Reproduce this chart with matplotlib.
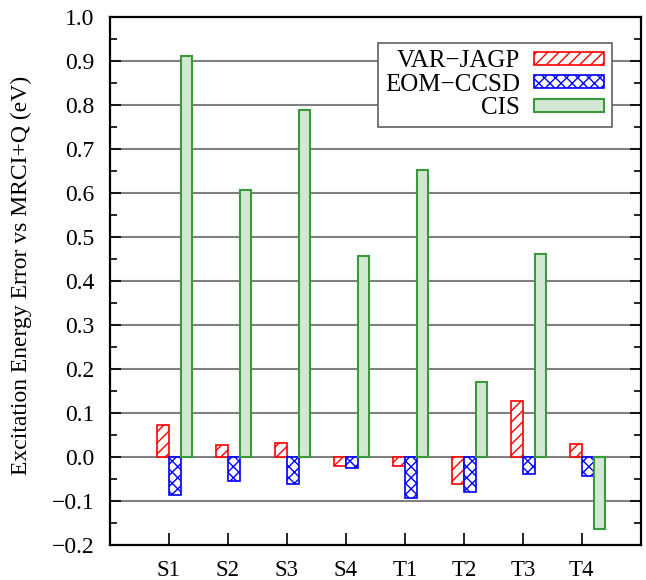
import numpy as np
import matplotlib.pyplot as plt
from matplotlib.ticker import MultipleLocator

states = ['S1', 'S2', 'S3', 'S4', 'T1', 'T2', 'T3', 'T4']
var_jagp = [0.072, 0.027, 0.032, -0.020, -0.021, -0.062, 0.127, 0.029]
eom_ccsd = [-0.087, -0.054, -0.060, -0.024, -0.093, -0.079, -0.039, -0.042]
cis = [0.910, 0.607, 0.789, 0.457, 0.651, 0.170, 0.461, -0.164]


def main():
    plt.rcParams['font.family'] = ['Liberation Serif', 'DejaVu Serif']
    plt.rcParams['hatch.linewidth'] = 1.0

    fig = plt.figure(figsize=(6.46, 5.8), dpi=100)
    ax = fig.add_axes([0.170, 0.060, 0.822, 0.911])

    x = np.arange(1, len(states) + 1)
    w = 0.2

    for y in np.arange(-0.1, 0.95, 0.1):
        ax.axhline(y, color='#808080', lw=1.5, zorder=0)

    ax.bar(x - w / 2, var_jagp, w, facecolor='white', edgecolor='red',
           hatch='///', lw=1.2, label='VAR\u2212JAGP', zorder=2)
    ax.bar(x + w / 2, eom_ccsd, w, facecolor='white', edgecolor='blue',
           hatch='xxx', lw=1.2, label='EOM\u2212CCSD', zorder=2)
    ax.bar(x + 3 * w / 2, cis, w, facecolor='#d3e8d3', edgecolor='#3a9a3a',
           lw=1.5, label='CIS', zorder=2)

    ax.set_xlim(0, 9)
    ax.set_ylim(-0.2, 1.0)
    ax.set_xticks(x)
    ax.set_xticklabels(states)
    ax.yaxis.set_major_locator(MultipleLocator(0.1))
    ax.yaxis.set_minor_locator(MultipleLocator(0.05))
    ax.set_yticklabels([f'{v:.1f}'.replace('-', '\u2212') for v in ax.get_yticks()])

    ax.tick_params(axis='y', which='both', direction='in', left=True, right=True,
                   labelsize=17, pad=11, width=1.2)
    ax.tick_params(axis='y', which='major', length=8)
    ax.tick_params(axis='y', which='minor', length=5)
    ax.tick_params(axis='x', direction='in', bottom=True, top=False,
                   labelsize=16.5, length=9, width=1.2, pad=11)
    for s in ax.spines.values():
        s.set_linewidth(1.6)

    ax.set_ylabel('Excitation Energy Error vs MRCI+Q (eV)', fontsize=17)
    ax.yaxis.set_label_coords(-0.147, 0.51)

    leg = ax.legend(loc='upper right', bbox_to_anchor=(0.945, 0.951), markerfirst=False,
                    fontsize=18, fancybox=False, framealpha=1, edgecolor='#606060',
                    handlelength=2.8, handleheight=0.4, labelspacing=0.06,
                    borderpad=0.3, handletextpad=0.56, borderaxespad=0)
    leg.get_frame().set_linewidth(1.2)

    fig.savefig('out.png', dpi=100)


if __name__ == '__main__':
    main()
